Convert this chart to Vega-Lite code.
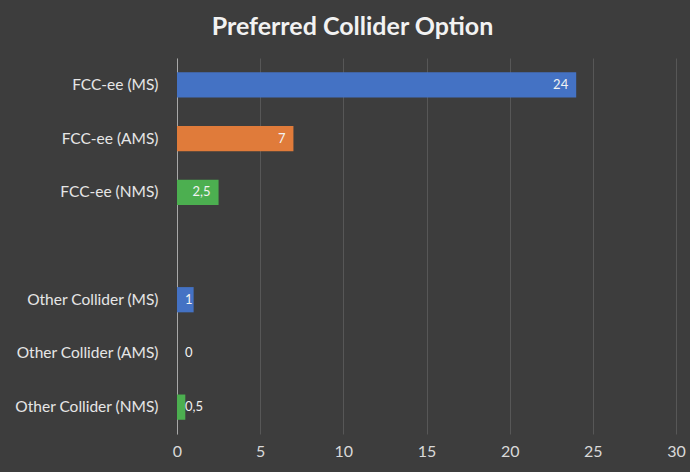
{
  "$schema": "https://vega.github.io/schema/vega-lite/v6.json",
  "width": 499,
  "height": 376,
  "autosize": {"type": "none"},
  "padding": {"left": 177, "top": 58, "right": 14, "bottom": 38},
  "background": "#3d3d3d",
  "title": {
    "text": "Preferred Collider Option",
    "font": "Lato",
    "fontSize": 25,
    "fontWeight": "bold",
    "color": "#f2f2f2",
    "anchor": "middle",
    "dx": -74,
    "offset": 18
  },
  "config": {
    "view": {"stroke": null},
    "font": "Lato"
  },
  "data": {
    "values": [
      {"category": "FCC-ee (MS)", "type": "MS", "value": 24, "label": "24"},
      {"category": "FCC-ee (AMS)", "type": "AMS", "value": 7, "label": "7"},
      {"category": "FCC-ee (NMS)", "type": "NMS", "value": 2.5, "label": "2,5"},
      {"category": "Other Collider (MS)", "type": "MS", "value": 1, "label": "1"},
      {"category": "Other Collider (AMS)", "type": "AMS", "value": 0, "label": "0"},
      {"category": "Other Collider (NMS)", "type": "NMS", "value": 0.5, "label": "0,5"}
    ]
  },
  "encoding": {
    "y": {
      "field": "category",
      "type": "nominal",
      "sort": null,
      "scale": {
        "domain": ["FCC-ee (MS)", "FCC-ee (AMS)", "FCC-ee (NMS)", " ", "Other Collider (MS)", "Other Collider (AMS)", "Other Collider (NMS)"],
        "paddingInner": 0.53,
        "paddingOuter": 0.265
      },
      "axis": {
        "title": null,
        "ticks": false,
        "domain": true,
        "domainColor": "#a8a8a8",
        "domainWidth": 1,
        "labelColor": "#e6e6e6",
        "labelFont": "Lato",
        "labelFontSize": 15.5,
        "labelPadding": 19,
        "grid": false
      }
    }
  },
  "layer": [
    {
      "mark": {"type": "bar"},
      "encoding": {
        "x": {
          "field": "value",
          "type": "quantitative",
          "scale": {"domain": [0, 30], "nice": false},
          "axis": {
            "title": null,
            "values": [0, 5, 10, 15, 20, 25, 30],
            "domain": false,
            "ticks": false,
            "grid": true,
            "gridColor": "#575757",
            "gridWidth": 1,
            "labelColor": "#d9d9d9",
            "labelFont": "Lato",
            "labelFontSize": 16,
            "labelPadding": 9,
            "labelFlush": false
          }
        },
        "color": {
          "field": "type",
          "type": "nominal",
          "scale": {"domain": ["MS", "AMS", "NMS"], "range": ["#4472C4", "#E07B3A", "#4CAF50"]},
          "legend": null
        }
      }
    },
    {
      "transform": [{"filter": "datum.value >= 2"}],
      "mark": {"type": "text", "align": "right", "baseline": "middle", "dx": -8, "fontSize": 13, "color": "#f2f2f2"},
      "encoding": {
        "x": {"field": "value", "type": "quantitative"},
        "text": {"field": "label"}
      }
    },
    {
      "transform": [{"filter": "datum.value < 2"}],
      "mark": {"type": "text", "align": "left", "baseline": "middle", "dx": 8, "fontSize": 13, "color": "#f2f2f2"},
      "encoding": {
        "x": {"datum": 0, "type": "quantitative"},
        "text": {"field": "label"}
      }
    }
  ]
}
